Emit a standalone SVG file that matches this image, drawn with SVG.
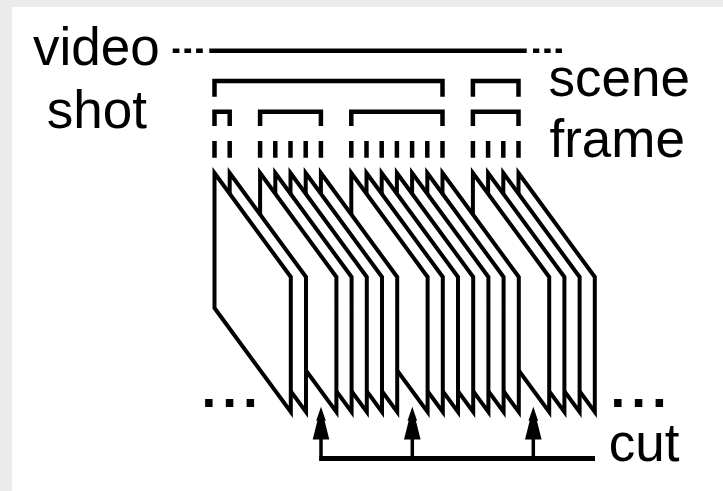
<svg xmlns="http://www.w3.org/2000/svg" xmlns:xlink="http://www.w3.org/1999/xlink" width="723" height="491" viewBox="0 0 723 491">
  <style>
    .lbl { font-family: "Liberation Sans", Arial, Helvetica, sans-serif; font-size: 53px; fill: #000; }
    .dots { font-family: "Liberation Sans", Arial, sans-serif; font-size: 53px; font-weight: bold; letter-spacing: 6px; fill: #000; }
    .thick { fill: none; stroke: #000; stroke-width: 4.5; stroke-linejoin: miter; stroke-linecap: butt; }
    .frame { fill: #fff; stroke: #000; stroke-width: 4; stroke-linejoin: miter; stroke-miterlimit: 10; }
    .shaft { fill: none; stroke: #000; stroke-width: 3.5; }
  </style>
  <defs>
    <polygon id="frm" class="frame" points="0,0 76.3,104 76.3,239 0,135"/>
    <path id="ahead" d="M0,0 L4.8,14 L3.6,14 L8.3,32.8 L-8.3,32.8 L-3.6,14 L-4.8,14 Z" fill="#000"/>
  </defs>

  <rect x="0" y="0" width="723" height="491" fill="#ebebeb"/>
  <rect x="12" y="7" width="711" height="484" fill="#ffffff"/>

  <g id="labels">
    <text id="label-video" class="lbl" x="33" y="65">video</text>
    <text id="label-shot" class="lbl" x="46.7" y="128.3">shot</text>
    <text id="label-scene" class="lbl" x="548.5" y="96">scene</text>
    <text id="label-frame" class="lbl" x="549.5" y="156.7">frame</text>
    <text id="label-cut" class="lbl" x="608.7" y="461">cut</text>
    <text id="dots-left" class="dots" x="201.5" y="406.5">...</text>
    <text id="dots-right" class="dots" x="610.5" y="406.5">...</text>
  </g>

  <g id="video-line">
    <line class="thick" x1="172.7" y1="50.8" x2="203" y2="50.8" stroke-dasharray="6.7 5"/>
    <line class="thick" x1="209.3" y1="50.8" x2="526.7" y2="50.8"/>
    <line class="thick" x1="533" y1="50.8" x2="564" y2="50.8" stroke-dasharray="6.3 5"/>
  </g>

  <g id="scenes">
    <path id="scene-1" class="thick" d="M214.5,96.7 V81 H442.5 V96.7"/>
    <path id="scene-2" class="thick" d="M472.9,96.7 V81 H518.5 V96.7"/>
  </g>

  <g id="shots">
    <path id="shot-1" class="thick" d="M214.5,126 V111.7 H229.7 V126"/>
    <path id="shot-2" class="thick" d="M260.1,126 V111.7 H320.9 V126"/>
    <path id="shot-3" class="thick" d="M351.3,126 V111.7 H442.5 V126"/>
    <path id="shot-4" class="thick" d="M472.9,126 V111.7 H518.5 V126"/>
  </g>

  <g id="frame-ticks" class="thick">
    <path d="M214.5,141 V157.7 M229.7,141 V157.7
             M260.1,141 V157.7 M275.3,141 V157.7 M290.5,141 V157.7 M305.7,141 V157.7 M320.9,141 V157.7
             M351.3,141 V157.7 M366.5,141 V157.7 M381.7,141 V157.7 M396.9,141 V157.7 M412.1,141 V157.7 M427.3,141 V157.7 M442.5,141 V157.7
             M472.9,141 V157.7 M488.1,141 V157.7 M503.3,141 V157.7 M518.5,141 V157.7"/>
  </g>

  <g id="frames">
    <use id="frame-18" xlink:href="#frm" href="#frm" x="518.5" y="173"/>
    <use id="frame-17" xlink:href="#frm" href="#frm" x="503.3" y="173"/>
    <use id="frame-16" xlink:href="#frm" href="#frm" x="488.1" y="173"/>
    <use id="frame-15" xlink:href="#frm" href="#frm" x="472.9" y="173"/>
    <use id="frame-14" xlink:href="#frm" href="#frm" x="442.5" y="173"/>
    <use id="frame-13" xlink:href="#frm" href="#frm" x="427.3" y="173"/>
    <use id="frame-12" xlink:href="#frm" href="#frm" x="412.1" y="173"/>
    <use id="frame-11" xlink:href="#frm" href="#frm" x="396.9" y="173"/>
    <use id="frame-10" xlink:href="#frm" href="#frm" x="381.7" y="173"/>
    <use id="frame-9" xlink:href="#frm" href="#frm" x="366.5" y="173"/>
    <use id="frame-8" xlink:href="#frm" href="#frm" x="351.3" y="173"/>
    <use id="frame-7" xlink:href="#frm" href="#frm" x="320.9" y="173"/>
    <use id="frame-6" xlink:href="#frm" href="#frm" x="305.7" y="173"/>
    <use id="frame-5" xlink:href="#frm" href="#frm" x="290.5" y="173"/>
    <use id="frame-4" xlink:href="#frm" href="#frm" x="275.3" y="173"/>
    <use id="frame-3" xlink:href="#frm" href="#frm" x="260.1" y="173"/>
    <use id="frame-2" xlink:href="#frm" href="#frm" x="229.7" y="173"/>
    <use id="frame-1" xlink:href="#frm" href="#frm" x="214.5" y="173"/>
  </g>

  <g id="connectors">
    <line x1="319.3" y1="458.5" x2="595" y2="458.5" stroke="#000" stroke-width="5"/>
    <line class="shaft" x1="321" y1="438" x2="321" y2="461"/>
    <line class="shaft" x1="412.3" y1="438" x2="412.3" y2="458"/>
    <line class="shaft" x1="533.3" y1="438" x2="533.3" y2="458"/>
    <use xlink:href="#ahead" href="#ahead" x="321" y="406.7"/>
    <use xlink:href="#ahead" href="#ahead" x="412.3" y="406.7"/>
    <use xlink:href="#ahead" href="#ahead" x="533.3" y="406.7"/>
  </g>
</svg>
